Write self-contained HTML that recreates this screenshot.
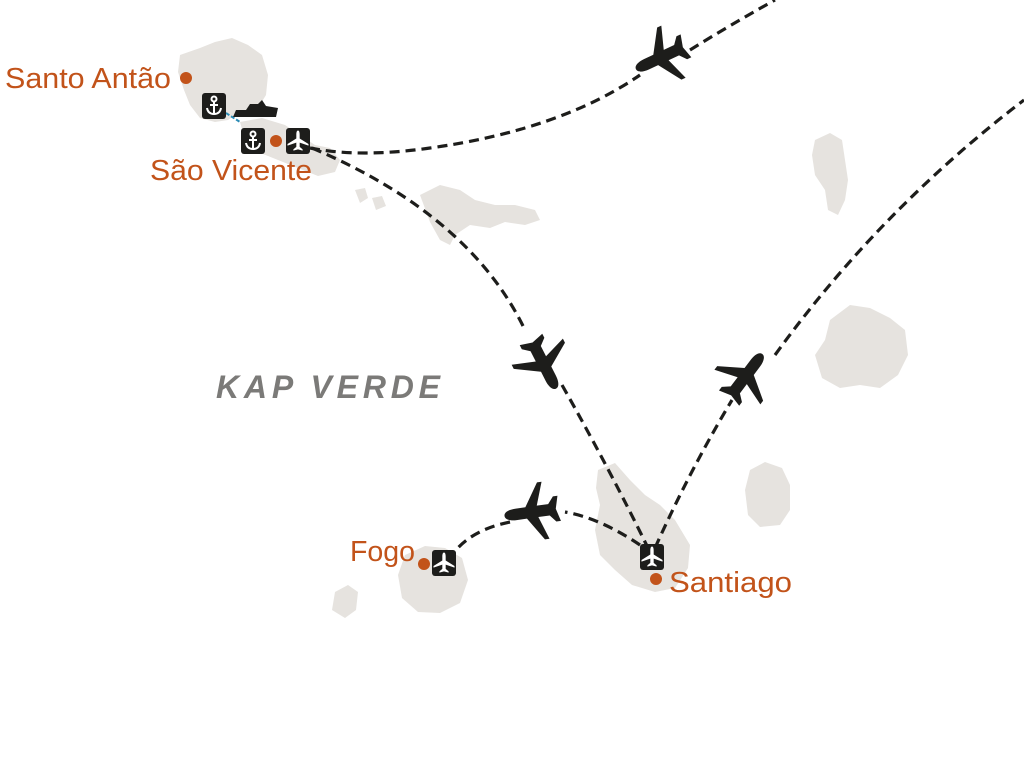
<!DOCTYPE html>
<html><head><style>body{margin:0;background:#fff}svg{display:block}</style></head><body>
<svg width="1024" height="757" viewBox="0 0 1024 757" xmlns="http://www.w3.org/2000/svg">
<defs>
<path id="pl" d="M0,-25 C3.5,-25 5,-20 5,-15 L5,-6 L25,7 L25,11 L5,4 L5,14 L11,19 L11,23 L0,20 L-11,23 L-11,19 L-5,14 L-5,4 L-25,11 L-25,7 L-5,-6 L-5,-15 C-5,-20 -3.5,-25 0,-25 Z" fill="#1d1d1b"/>
<g id="ap"><rect x="-12" y="-13" width="24" height="26" rx="3" fill="#1d1d1b"/><path transform="scale(0.42)" d="M0,-25 C3,-25 4,-20 4,-15 L4,-6 L25,7 L25,11 L4,4 L4,14 L11,20 L11,23 L0,20 L-11,23 L-11,20 L-4,14 L-4,4 L-25,11 L-25,7 L-4,-6 L-4,-15 C-4,-20 -3,-25 0,-25 Z" fill="#fff"/></g>
<g id="an"><rect x="-12" y="-13" width="24" height="26" rx="3" fill="#1d1d1b"/><g stroke="#fff" stroke-width="2" fill="none"><circle cx="0" cy="-7" r="2.5"/><line x1="0" y1="-4" x2="0" y2="8"/><line x1="-4" y1="-1" x2="4" y2="-1"/><path d="M-7,2 Q-6,8 0,8 Q6,8 7,2"/></g></g>
</defs>
<g fill="#e6e3df">
<path d="M180,55 L200,48 L215,42 L232,38 L248,45 L262,55 L268,75 L266,95 L258,108 L240,112 L228,120 L215,122 L200,118 L190,105 L184,90 L178,72 Z"/>
<path d="M240,122 L262,118 L285,125 L300,135 L315,145 L330,148 L340,160 L335,172 L318,176 L298,168 L278,160 L258,152 L245,140 Z"/>
<path d="M355,190 L365,188 L368,198 L360,203 Z"/><path d="M372,198 L382,196 L386,206 L376,210 Z"/>
<path d="M420,195 L440,185 L460,190 L475,200 L495,205 L515,205 L535,210 L540,220 L525,225 L505,222 L490,228 L470,225 L455,235 L450,245 L440,240 L430,222 Z"/>
<path d="M815,140 L830,133 L842,140 L845,160 L848,180 L845,200 L838,215 L828,210 L825,190 L815,175 L812,155 Z"/>
<path d="M830,320 L850,305 L870,308 L890,318 L905,330 L908,355 L898,375 L880,388 L860,385 L840,388 L822,378 L815,355 L825,340 Z"/>
<path d="M750,470 L765,462 L782,468 L790,485 L790,510 L780,525 L760,527 L748,515 L745,490 Z"/>
<path d="M598,470 L615,463 L630,480 L645,495 L660,505 L675,520 L690,545 L688,568 L675,588 L655,592 L632,585 L615,570 L600,555 L595,530 L600,505 L596,488 Z"/>
<path d="M405,555 L425,546 L445,548 L462,558 L468,580 L460,603 L440,613 L418,612 L402,598 L398,575 Z"/>
<path d="M335,592 L348,585 L358,592 L356,610 L345,618 L332,610 Z"/>
</g>
<g fill="none" stroke="#1d1d1b" stroke-width="3.2" stroke-dasharray="10,6">
<path d="M310,148 Q360,158 430,148 Q560,130 640,75"/>
<path d="M690,50 Q730,25 775,0"/>
<path d="M312,148 Q470,215 525,330"/>
<path d="M562,385 Q610,470 648,548"/>
<path d="M655,548 Q690,470 732,400"/>
<path d="M775,355 Q880,210 1024,100"/>
<path d="M640,545 Q600,518 565,512"/>
<path d="M510,522 Q470,530 452,555"/>
</g>
<line x1="226" y1="113" x2="240" y2="122" stroke="#2b8bb5" stroke-width="2" stroke-dasharray="4,2"/>
<use href="#pl" transform="translate(662,57) rotate(-115) scale(1.15)"/>
<use href="#pl" transform="translate(543,363) rotate(153) scale(1.15)"/>
<use href="#pl" transform="translate(745,377) rotate(37) scale(1.15)"/>
<use href="#pl" transform="translate(533,512) rotate(-98) scale(1.15)"/>
<path d="M233,117 L276,117 L278,108 L266,106 L262,100 L258,104 L250,104 L246,110 L236,110 Z" fill="#1d1d1b"/>
<use href="#an" transform="translate(214,106)"/>
<use href="#an" transform="translate(253,141)"/>
<use href="#ap" transform="translate(298,141)"/>
<use href="#ap" transform="translate(652,557)"/>
<use href="#ap" transform="translate(444,563)"/>
<g fill="#c2531a">
<circle cx="186" cy="78" r="6"/><circle cx="276" cy="141" r="6"/><circle cx="656" cy="579" r="6"/><circle cx="424" cy="564" r="6"/>
</g>
<g font-family="Liberation Sans, sans-serif" font-size="29" fill="#c2531a">
<text x="5" y="88" textLength="166" lengthAdjust="spacingAndGlyphs">Santo Antão</text>
<text x="150" y="180" textLength="162" lengthAdjust="spacingAndGlyphs">São Vicente</text>
<text x="669" y="592" textLength="123" lengthAdjust="spacingAndGlyphs">Santiago</text>
<text x="350" y="561" textLength="65" lengthAdjust="spacingAndGlyphs">Fogo</text>
</g>
<text x="216" y="398" font-family="Liberation Sans, sans-serif" font-size="32" font-weight="bold" font-style="italic" fill="#7b7a78" textLength="224" lengthAdjust="spacing">KAP VERDE</text>
</svg>
</body></html>
